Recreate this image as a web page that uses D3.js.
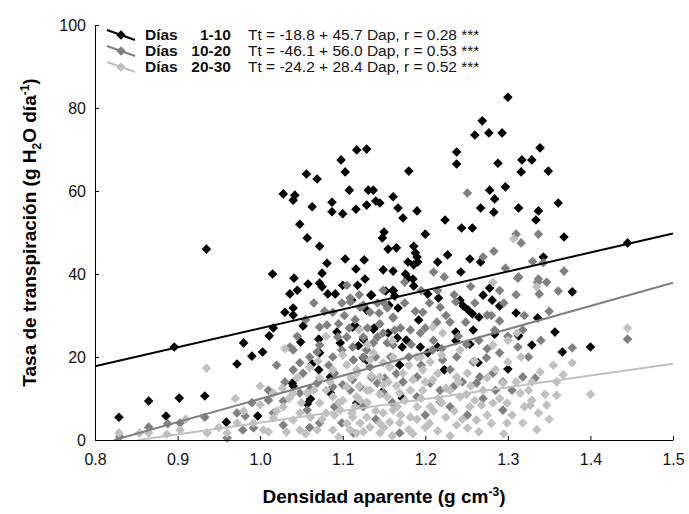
<!DOCTYPE html>
<html>
<head>
<meta charset="utf-8">
<script src="https://cdn.jsdelivr.net/npm/d3@7"></script>
<style>
  body { margin: 0; background: #fff; }
  text { font-family: Arial, "Liberation Sans", sans-serif; }
</style>
</head>
<body>
<div id="here"></div>
<script>
var w = 689, h = 514;

// Días 1-10 (Dap, Tt)
var dias1 = [
  [1.300,82.6],[1.269,76.9],[1.260,73.5],[1.277,74],[1.293,74],
  [1.117,69.9],[1.129,70.1],[1.098,67.5],[1.103,64.6],[1.056,64.1],[1.069,62.9],
  [1.238,69.4],[1.238,66.5],[1.339,70.4],[1.180,64.8],[1.288,66.7],[1.317,67.5],[1.329,67.5],[1.316,64.6],[1.349,64.8],
  [1.028,59.3],[1.042,59],[1.040,57.8],[1.063,56.2],[1.087,57.3],[1.087,55],[1.100,54.5],[1.116,55.6],[1.108,60.2],[1.131,60.2],
  [1.137,60.2],[1.140,57.6],[1.145,57.1],[1.129,56.6],[1.161,58.6],[1.167,55.9],[1.190,55.2],[1.173,53.5],
  [1.297,61],[1.278,60.2],[1.284,58.1],[1.267,55.9],[1.283,54.9],[1.313,55.9],[1.337,55.2],[1.334,53],[1.361,57.1],
  [1.224,53],[1.244,51.1],[1.257,51.1],[1.200,49.6],[1.368,48.9],
  [1.048,52],[1.057,48.7],[1.072,46.7],[0.935,46],
  [1.148,48.7],[1.150,50.1],[1.155,46],[1.165,46.3],[1.186,46.7],[1.188,45.1],[1.190,44.1],[1.191,42.9],[1.179,42.9],
  [1.215,42.9],[1.227,44.6],[1.254,43.6],[1.267,42.9],[1.343,44.1],[1.445,47.5],
  [1.081,42.6],[1.103,43.6],[1.126,43.4],[1.116,41.2],[1.149,41],[1.161,40.7],[1.176,40],[1.015,40],[1.075,40.2],[1.041,39],[1.243,40.5],
  [1.186,42.2],[1.179,39],[1.185,38.8],[1.127,38.8],[1.118,37.3],[1.186,37.1],[1.152,35.9],[1.161,35.9],[1.134,34.9],
  [1.203,35.2],[1.216,34.2],[1.242,33.7],[1.270,34.9],[1.278,36.6],[1.281,33.7],[1.378,35.7],[1.167,31.8],[1.129,31.3],
  [1.192,28.9],[1.290,32.3],[1.246,32.3],[1.265,29.6],[1.310,30.6],[1.336,29.4],[1.252,31.3],[1.257,30.4],
  [1.237,26],[1.258,26.5],[1.284,25.5],[1.313,25.1],[1.357,26],[1.329,22.9],[1.117,27.2],[1.138,27],[1.155,25.8],
  [1.166,24.6],[1.177,24.1],[1.172,22.4],[1.194,22.4],[1.215,22.4],[1.237,23.9],[1.254,23.1],[1.366,21.2],[1.400,22.4],
  [1.203,21],[1.223,16.9],[1.169,18.1],[1.264,18.6],[1.300,17.1],[1.125,19.8],[1.148,11.6],[1.172,10.1],
  [1.058,37.6],[1.072,37.8],[1.075,36.9],[1.036,35.2],[1.045,36.1],[1.082,35.2],[1.091,35.2],[1.100,37.3],[1.111,33.7],
  [1.135,34.9],[1.030,30.8],[1.040,31.8],[1.040,30.1],[1.016,27],[1.011,25.1],[0.980,23.4],[0.990,20.2],[1.003,21.2],
  [0.972,18.3],[0.896,22.4],[1.052,27.5],[1.049,23.6],[1.071,24.3],[1.072,21],[1.063,18.3],[1.071,16.9],[1.085,15.2],
  [1.039,13.7],[1.040,13],[1.061,9.9],[1.057,8.7],[0.933,10.6],[0.902,10.1],[0.865,9.4],[0.829,5.5],[0.886,5.8],
  [0.959,4.3],[0.997,5.8],
  [1.093,26],[1.097,23.4],[1.112,27.2],[1.125,24.3],[1.119,22.7],[1.137,26.7],[1.129,19.3],[1.117,8.9],[1.085,11.3],
  [1.163,34.7],[1.156,32.5],[1.161,36.1]
];

// Días 10-20 (Dap, Tt)
var dias2 = [
  [1.251,59.5],[1.310,49.6],[1.316,47.5],[1.337,49.6],[1.270,44.1],[1.223,39.3],[1.297,41.4],[1.343,42.7],[1.368,40.7],
  [1.313,39.3],[1.337,38.8],[1.312,39],[1.336,38],[1.347,38],[1.338,35.2],[1.361,35.9],[1.237,33.3],[1.218,32],
  [1.214,28.4],[1.230,28.4],[1.197,30.8],[1.161,29.4],[1.144,30.6],[1.133,30.8],[1.121,32],[1.109,33.3],[1.249,28.4],
  [1.275,30.1],[1.290,28.7],[1.284,26.5],[1.318,26.5],[1.312,22.4],[1.378,22.2],[1.445,24.3],[1.182,26.5],[1.194,25.8],
  [1.149,25.8],[1.125,24.8],[1.137,23.4],[1.161,22.9],[1.209,21.7],[1.221,19.3],[1.238,20],[1.258,18.8],[1.274,19.8],
  [1.282,16.1],[1.266,15.2],[1.318,15.2],[1.333,14.9],[1.113,19.3],[1.133,17.6],[1.151,14.9],[1.173,14],[1.190,15.2],
  [1.206,13.7],[1.218,12],[1.234,12.8],[1.262,13.7],[1.294,14],[1.149,11.3],[1.190,10.4],[1.218,9.2],[1.251,6],
  [1.169,1.7],[1.129,8.9],[1.109,12],[1.294,7.2],
  [0.865,3.1],[0.888,3.9],[0.903,4.1],[0.933,5.5],[0.960,0.5],[0.972,6.5],[0.982,5.8],[0.992,2.9],[1.010,9.6],
  [1.016,6.5],[1.028,9.4],[1.036,22.4],[1.040,21.7],[1.040,16.9],[1.048,18.6],[1.052,16.1],[1.060,20],[1.069,21.2],
  [1.072,22.9],[1.072,27.2],[1.081,27.7],[1.088,30.8],[1.099,33],[1.105,37.3],[1.109,34.2],[1.125,32.5],[1.142,33],
  [1.149,36.1],[1.154,31.8],[1.161,29.6],[1.094,24.8],[1.105,24.8],[1.112,22.4],[1.099,21.7],[1.088,20],[1.125,20],
  [1.129,21.7],[1.142,24.8],[1.069,13.7],[1.088,12.8],[1.100,13.3],[1.112,14.5],[1.121,12.8],[1.142,13.7],[1.061,12.3],
  [1.048,11.3],[1.028,3.6],[1.057,7.2],[1.072,4.1],[1.099,4.1],[1.125,8],[1.157,17.6],[1.163,26.5],[1.154,23.4],
  [0.979,2.4],[1.113,1.7],[0.830,0.8],
  [1.175,38],[1.195,36],[1.210,40.5],[1.255,37],[1.290,36],[1.283,45.5],
  [1.045,25],[1.055,29],[1.065,33],[1.078,31],[1.083,18],[1.090,16],[1.095,28],[1.102,30],[1.108,27],[1.115,29],
  [1.120,35],[1.130,27],[1.135,15],[1.140,20],[1.145,28],[1.150,33],[1.158,20],[1.165,16],[1.170,27],[1.175,33],
  [1.180,20],[1.183,23],[1.188,31],[1.195,18],[1.200,27],[1.205,33],[1.210,24],[1.215,36],[1.220,22],[1.225,30],
  [1.230,17],[1.235,35],[1.240,25],[1.245,14],[1.250,23],[1.260,33],[1.265,24],[1.270,10],[1.275,22],[1.280,30],
  [1.285,12],[1.290,21],[1.295,33],[1.300,25],[1.305,12],[1.310,35],[1.320,30],[1.325,20],[1.330,43],[1.340,24],
  [1.350,31],[1.060,3],[1.090,8],[1.140,5],[1.200,6],[1.160,9],[1.230,8],[1.030,14],[1.020,18],[1.010,12],[0.990,9]
];

// Días 20-30 (Dap, Tt)
var dias3 = [
  [1.307,48.5],[1.282,38],[1.335,36.9],[1.445,27],[1.400,11],
  [1.378,18.6],[1.367,15.7],[1.359,14],[1.359,10.8],[1.339,16.4],[1.329,14],[1.316,20],[1.300,18.8],[1.294,13.7],
  [1.315,11.3],[1.329,9.6],[1.327,8.4],[1.347,8.4],[1.337,6.5],[1.299,8.9],[1.282,8.9],[1.299,4.1],[1.318,4.1],
  [1.275,6],[1.262,4.8],[1.251,2.9],[1.238,3.6],[1.268,8.4],[1.254,8],[1.242,10.4],[1.230,12],[1.216,10.1],[1.206,8],
  [1.190,8],[1.182,5.5],[1.169,4.1],[1.157,4.3],[1.145,1.7],[1.133,3.1],[1.121,4.1],[1.117,1.7],[1.111,6.5],[1.129,5.5],
  [1.149,6.5],[1.166,8],[1.117,10.4],[1.133,12],[1.149,13.3],[1.169,11.3],[1.182,12],[1.197,12],[1.209,14.5],[1.173,16.1],
  [1.197,16.9],[1.157,17.6],[1.133,19.3],[1.117,16.9],[1.190,20],[1.206,18.8],[1.238,15.2],[1.251,16.1],[1.282,22.9],
  [1.209,27.2],[1.194,20],[1.221,25.8],[1.242,21.7],[1.311,25.8],
  [0.829,1.7],[0.854,1.7],[0.865,1.7],[0.887,1.4],[0.903,2.4],[0.936,1.7],[0.935,17.3],[0.960,1.7],[0.972,4.1],
  [0.992,4.1],[1.004,2.4],[1.016,11.3],[1.016,5.3],[1.028,8],[1.032,1.9],[1.040,4.8],[1.048,6.5],[1.048,2.4],[1.061,5.5],
  [1.069,2.4],[1.072,8.9],[1.072,14.9],[1.085,14],[1.088,10.4],[1.097,7.2],[1.088,2.4],[1.109,2.4],[1.112,5.5],
  [1.121,9.6],[1.129,12],[1.105,12.8],[1.117,16.1],[1.145,15.2],[1.154,10.4],[1.145,4.1],[1.161,7.2],[1.161,20],
  [1.149,18.6],[1.040,11.3],[1.057,11.3],[1.027,12.5],[1.088,16.9],[1.105,18.1],[1.137,21],
  [1.200,3],[1.225,5.5],[1.185,1.5],[1.215,2.2],[1.080,6.5],[1.095,9],[1.045,15],[1.060,17.5],[0.970,10],[1.000,8.5],
  [1.010,2],[1.020,7],[1.035,10],[1.050,9],[1.055,1.5],[1.065,12],[1.075,5],[1.080,12],[1.090,6],[1.095,0.8],
  [1.100,9.5],[1.105,4],[1.110,15],[1.115,8],[1.120,13],[1.125,2],[1.130,9],[1.135,15.5],[1.140,7],[1.145,11],
  [1.150,3],[1.155,14],[1.160,1],[1.165,13],[1.170,6],[1.175,9.5],[1.180,2.5],[1.185,14.5],[1.190,5],[1.195,10],
  [1.200,14],[1.205,4],[1.210,7],[1.215,16],[1.220,9],[1.225,12.5],[1.230,1],[1.235,7],[1.240,14],[1.245,5],
  [1.250,11],[1.255,13],[1.260,9.5],[1.265,2],[1.270,12],[1.275,15],[1.280,4],[1.285,17],[1.290,10],[1.295,1.5],
  [1.305,6],[1.310,14],[1.320,8],[1.325,12],[1.335,2.5],[1.345,11],[1.350,5],[1.355,18],[1.070,19],[1.100,20.5],
  [1.130,23],[1.160,24],[1.180,18],[1.220,20.5],[1.260,19],[1.300,24],[0.980,7],[0.950,3],[0.910,5],[1.000,13],
  [1.030,22],[1.080,25],[1.120,26.5]
];

var intercepts = [-18.8, -46.1, -24.2];
var slopes = [45.7, 56.0, 28.4];
var rValues = ["0.28", "0.53", "0.52"];
var periodos = ["1-10", "10-20", "20-30"];
var colores = ["#000000", "#808080", "#c0c0c0"];
var xTicks = [0.8, 0.9, 1.0, 1.1, 1.2, 1.3, 1.4, 1.5];
var yTicks = [0, 20, 40, 60, 80, 100];

var series = [dias1, dias2, dias3];

var margin = {left: 95, right: 16, top: 25, bottom: 74};

var x = d3.scaleLinear().domain([0.8, 1.5]).range([margin.left, w - margin.right]);
var y = d3.scaleLinear().domain([0, 100]).range([h - margin.bottom, margin.top]);

var svg = d3.select("#here").append("svg")
  .attr("width", w)
  .attr("height", h)
  .style("background", "#fff");

var marker = d3.symbol().type(d3.symbolSquare).size(46);

// points
series.forEach(function(s, i) {
  svg.append("g").selectAll("path")
    .data(s)
    .enter().append("path")
    .attr("d", marker)
    .attr("transform", function(d) { return "translate(" + x(d[0]) + "," + y(d[1]) + ") rotate(45)"; })
    .attr("fill", colores[i]);
});

// regression lines
series.forEach(function(s, i) {
  var a = intercepts[i], b = slopes[i];
  var x0 = Math.max(0.8, -a / b);
  var pts = [[x0, a + b * x0], [1.5, a + b * 1.5]];
  svg.append("path")
    .attr("d", d3.line().x(function(d) { return x(d[0]); }).y(function(d) { return y(d[1]); })(pts))
    .attr("stroke", colores[i])
    .attr("stroke-width", 2)
    .attr("fill", "none");
});

// axes
var xAxis = d3.axisBottom(x).tickValues(xTicks).tickFormat(d3.format(".1f"))
  .tickSizeInner(-4).tickSizeOuter(0).tickPadding(14);
var yAxis = d3.axisLeft(y).tickValues(yTicks)
  .tickSizeInner(-4).tickSizeOuter(0).tickPadding(9);

var gx = svg.append("g").attr("transform", "translate(0," + (h - margin.bottom) + ")").call(xAxis);
var gy = svg.append("g").attr("transform", "translate(" + margin.left + ",0)").call(yAxis);
[gx, gy].forEach(function(g) {
  g.selectAll("text").style("font-size", "16px").attr("fill", "#111");
  g.selectAll("line, path").attr("stroke", "#000");
});

// axis titles
var xt = svg.append("text")
  .attr("x", (margin.left + w - margin.right) / 2)
  .attr("y", 503)
  .attr("text-anchor", "middle")
  .style("font-size", "19px").style("font-weight", "bold");
xt.append("tspan").text("Densidad aparente (g cm");
xt.append("tspan").attr("dy", -7).style("font-size", "12px").text("-3");
xt.append("tspan").attr("dy", 7).text(")");

var yt = svg.append("text")
  .attr("transform", "translate(36," + ((margin.top + h - margin.bottom) / 2) + ") rotate(-90)")
  .attr("text-anchor", "middle")
  .style("font-size", "19px").style("font-weight", "bold");
yt.append("tspan").text("Tasa de transpiración (g H");
yt.append("tspan").attr("dy", 5).style("font-size", "12px").text("2");
yt.append("tspan").attr("dy", -5).text("O día");
yt.append("tspan").attr("dy", -7).style("font-size", "12px").text("-1");
yt.append("tspan").attr("dy", 7).text(")");

// legend
var leg = svg.append("g").selectAll("g")
  .data(periodos)
  .enter().append("g")
  .attr("transform", function(d, i) { return "translate(0," + (35 + i * 16) + ")"; });

leg.append("line")
  .attr("x1", 107).attr("y1", -5).attr("x2", 135).attr("y2", 5)
  .attr("stroke", function(d, i) { return colores[i]; })
  .attr("stroke-width", 2);
leg.append("path")
  .attr("d", marker)
  .attr("transform", "translate(121,0) rotate(45)")
  .attr("fill", function(d, i) { return colores[i]; });
leg.append("text")
  .attr("x", 145).attr("y", 5)
  .style("font-size", "15.5px").style("font-weight", "bold").attr("fill", "#111")
  .text("Días");
leg.append("text")
  .attr("x", 231).attr("y", 5).attr("text-anchor", "end")
  .style("font-size", "15.5px").style("font-weight", "bold").attr("fill", "#111")
  .text(function(d) { return d; });
leg.append("text")
  .attr("x", 248).attr("y", 5)
  .style("font-size", "15.5px").attr("fill", "#111")
  .text(function(d, i) {
    return "Tt = " + intercepts[i].toFixed(1) + " + " + slopes[i].toFixed(1) + " Dap, r = " + rValues[i] + " ***";
  });
</script>
</body>
</html>
